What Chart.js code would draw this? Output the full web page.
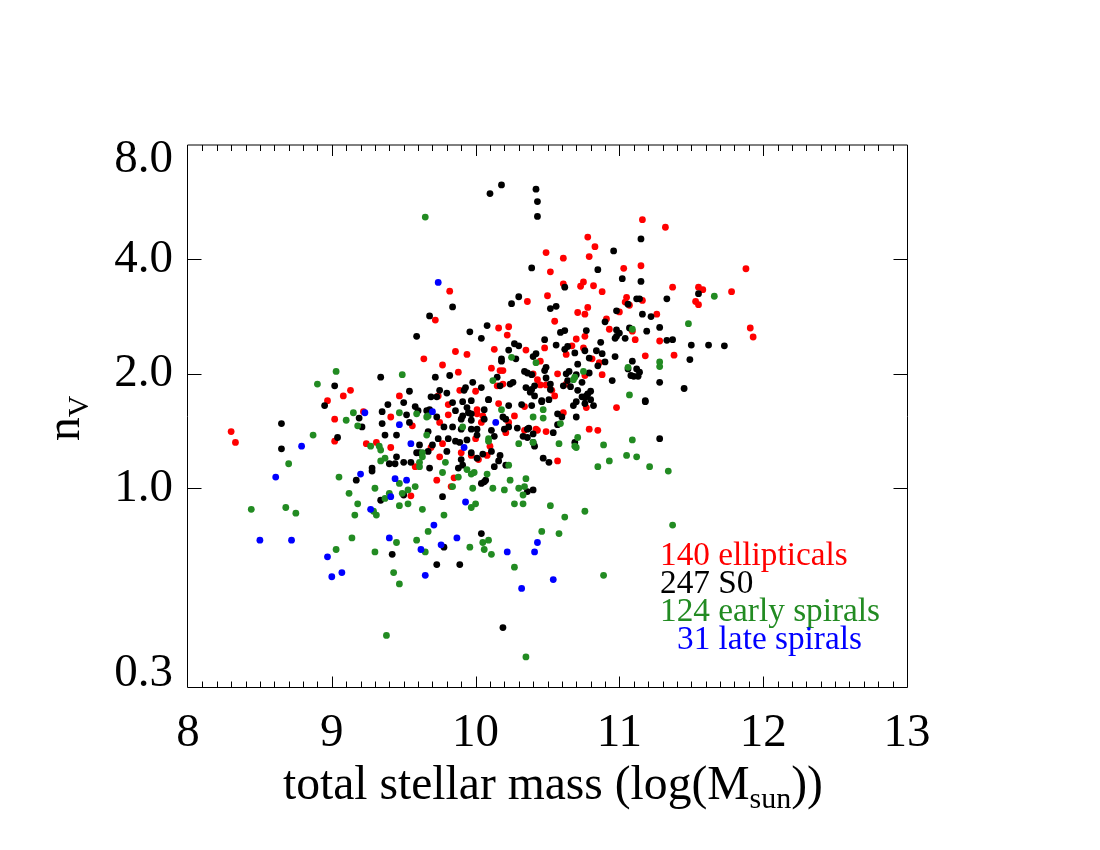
<!DOCTYPE html>
<html>
<head>
<meta charset="utf-8">
<style>html,body{margin:0;padding:0;background:#fff}#wrap{width:1100px;height:850px;position:relative}</style>
<script src="https://cdn.jsdelivr.net/npm/chart.js@4"></script>
</head>
<body>
<div id="wrap"><canvas id="c" width="1100" height="850"></canvas></div>
<script>
const ellipticals = [[8.30,1.41],[8.33,1.32],[9.13,1.81],[9.08,1.75],[8.97,1.70],[9.02,1.52],[9.02,1.33],[9.22,1.59],[9.24,1.31],[9.31,1.32],[9.41,1.28],[9.41,1.54],[9.47,1.75],[9.56,1.46],[9.55,0.955],[9.58,1.14],[9.64,2.19],[9.77,2.11],[9.86,2.29],[9.94,2.25],[9.88,2.02],[9.82,3.30],[9.72,2.77],[9.74,1.75],[9.89,1.81],[10.00,1.80],[9.81,1.66],[9.81,1.56],[9.75,1.49],[10.01,1.61],[10.01,1.57],[10.04,1.49],[10.05,1.55],[10.16,1.67],[10.00,1.35],[10.10,1.29],[9.77,1.31],[9.69,1.28],[9.90,1.24],[9.75,1.21],[9.97,1.22],[10.02,1.19],[10.08,1.22],[9.85,1.065],[9.73,1.05],[9.83,1.01],[11.16,5.09],[11.32,4.86],[10.78,4.58],[10.83,4.32],[10.49,4.17],[10.61,4.03],[10.79,4.07],[10.52,3.71],[11.03,3.79],[11.15,3.85],[11.88,3.78],[10.61,3.45],[10.75,3.49],[10.73,3.40],[10.82,3.41],[10.88,3.29],[11.37,3.38],[11.55,3.38],[11.58,3.33],[11.78,3.29],[11.53,3.10],[11.55,3.04],[10.36,3.10],[10.50,3.21],[10.78,2.99],[10.71,2.90],[10.76,2.87],[11.05,3.18],[11.04,3.09],[11.07,3.03],[11.16,3.12],[11.00,2.91],[11.26,2.87],[10.91,2.79],[10.55,2.75],[10.16,2.64],[10.23,2.66],[10.22,2.53],[11.91,2.64],[11.93,2.50],[11.09,2.59],[10.93,2.62],[11.11,2.46],[10.76,2.51],[10.70,2.47],[11.28,2.44],[10.13,2.32],[10.35,2.31],[10.48,2.34],[10.67,2.37],[10.75,2.34],[10.63,2.25],[10.45,2.16],[10.81,2.19],[11.18,2.23],[11.38,2.24],[10.86,2.14],[10.11,2.07],[10.17,2.04],[10.19,2.04],[10.40,2.00],[10.57,2.00],[10.88,1.99],[10.76,1.98],[10.19,1.88],[10.15,1.86],[10.43,1.93],[10.63,1.88],[10.45,1.87],[10.49,1.87],[10.53,1.81],[10.55,1.75],[10.34,1.64],[10.61,1.58],[10.77,1.63],[10.98,1.63],[10.27,1.55],[10.23,1.49],[10.21,1.40],[10.34,1.42],[10.42,1.43],[10.43,1.42],[10.49,1.41],[10.79,1.43],[10.85,1.42],[10.57,1.18]];
const s0 = [[9.68,2.84],[9.84,3.00],[9.59,2.51],[9.96,2.58],[10.04,2.48],[10.08,2.68],[9.82,1.98],[9.72,1.96],[9.34,1.96],[9.02,1.86],[9.54,1.80],[9.75,1.81],[9.69,1.74],[9.73,1.74],[9.80,1.78],[9.92,1.81],[9.93,1.84],[9.98,1.90],[10.04,1.84],[10.18,6.28],[10.10,5.96],[10.42,6.12],[10.43,5.68],[10.43,5.19],[11.15,4.53],[10.96,4.21],[10.39,3.80],[10.85,3.76],[11.02,3.56],[11.15,3.50],[10.62,3.38],[11.55,3.25],[10.30,3.19],[10.25,3.06],[10.56,3.01],[10.52,2.97],[11.06,3.05],[11.12,3.15],[11.14,3.15],[11.33,3.15],[10.98,2.93],[11.16,2.87],[11.22,2.83],[10.90,2.74],[11.28,2.65],[11.19,2.59],[11.07,2.64],[10.98,2.61],[11.00,2.56],[10.98,2.51],[10.97,2.48],[11.04,2.48],[10.77,2.60],[10.62,2.60],[10.59,2.57],[10.48,2.46],[10.87,2.42],[11.33,2.45],[11.37,2.46],[11.50,2.38],[11.62,2.38],[11.73,2.37],[10.27,2.40],[10.30,2.37],[10.23,2.31],[10.56,2.38],[10.64,2.36],[10.62,2.32],[10.76,2.30],[10.84,2.30],[10.88,2.26],[10.69,2.27],[10.42,2.26],[10.40,2.22],[10.28,2.19],[10.18,2.19],[10.18,2.16],[10.79,2.20],[10.97,2.22],[11.49,2.18],[11.09,2.16],[10.90,2.15],[10.85,2.10],[10.71,2.12],[11.06,2.06],[11.12,2.06],[11.14,2.02],[11.13,1.97],[11.10,1.97],[11.08,1.98],[10.49,2.08],[10.48,2.04],[10.34,2.03],[10.36,2.01],[10.39,1.99],[10.65,2.03],[10.63,2.00],[10.70,1.99],[10.79,2.01],[10.15,1.96],[10.26,1.90],[10.24,1.88],[10.17,1.86],[10.49,1.95],[10.64,1.92],[10.61,1.86],[10.66,1.85],[10.74,1.90],[10.95,1.92],[11.28,1.90],[11.45,1.83],[10.35,1.84],[10.41,1.86],[10.52,1.88],[10.52,1.82],[10.39,1.82],[10.38,1.79],[10.41,1.75],[10.71,1.81],[10.80,1.80],[10.78,1.77],[10.74,1.74],[10.76,1.73],[10.80,1.71],[10.09,1.71],[10.51,1.71],[10.46,1.70],[11.18,1.70],[8.65,1.48],[8.65,1.27],[8.95,1.65],[9.19,1.53],[9.21,1.45],[9.04,1.36],[9.45,1.21],[9.40,1.16],[9.44,1.16],[9.50,1.17],[9.55,1.17],[9.28,1.13],[9.28,1.11],[9.17,1.05],[9.50,0.96],[9.34,0.93],[9.77,0.95],[9.39,1.66],[9.50,1.68],[9.35,1.59],[9.52,1.56],[9.58,1.64],[9.60,1.60],[9.66,1.60],[9.68,1.61],[9.73,1.54],[9.35,1.48],[9.54,1.49],[9.78,1.45],[9.84,1.45],[9.90,1.43],[9.97,1.43],[9.97,1.51],[10.06,1.52],[9.86,1.60],[9.90,1.52],[9.91,1.55],[9.94,1.63],[9.95,1.58],[9.97,1.57],[9.84,1.68],[9.91,1.69],[9.97,1.70],[10.06,1.61],[10.09,1.71],[9.37,1.38],[9.45,1.38],[9.67,1.41],[9.74,1.35],[9.81,1.35],[9.86,1.33],[9.89,1.32],[9.94,1.34],[10.01,1.38],[10.01,1.43],[10.11,1.42],[10.13,1.37],[10.11,1.25],[9.61,1.30],[9.70,1.30],[9.67,1.25],[9.80,1.25],[9.59,1.24],[9.61,1.24],[9.97,1.24],[10.01,1.20],[10.05,1.23],[9.90,1.19],[10.17,1.22],[10.16,1.18],[9.68,1.13],[10.13,1.14],[9.91,1.15],[9.88,1.13],[10.07,1.05],[10.06,1.04],[10.04,1.03],[10.23,1.65],[10.32,1.66],[10.39,1.65],[10.46,1.69],[10.19,1.54],[10.21,1.52],[10.23,1.45],[10.20,1.43],[10.29,1.44],[10.37,1.44],[10.36,1.43],[10.54,1.40],[10.40,1.39],[10.33,1.37],[10.36,1.36],[10.57,1.57],[10.60,1.54],[10.57,1.47],[10.70,1.54],[10.68,1.65],[10.70,1.69],[10.77,1.75],[10.76,1.67],[10.82,1.65],[11.18,1.69],[10.69,1.32],[11.28,1.35],[10.41,1.29],[10.40,1.32],[10.47,1.20],[10.51,1.17],[10.21,1.15],[10.36,0.98],[10.40,0.99],[9.78,0.70],[10.04,0.76],[9.42,0.67],[9.73,0.63],[9.89,0.63],[10.19,0.43]];
const earlySpirals = [[9.65,5.17],[9.49,1.99],[9.03,2.03],[8.90,1.88],[10.25,2.21],[10.42,2.14],[11.66,3.20],[11.48,2.71],[11.09,2.62],[11.28,2.15],[11.28,2.09],[11.06,2.08],[10.75,2.03],[10.69,1.96],[10.68,1.93],[10.12,1.92],[11.07,1.76],[8.87,1.38],[8.70,1.16],[9.10,1.51],[9.15,1.58],[9.18,1.46],[9.27,1.29],[9.33,1.29],[9.34,1.26],[9.37,1.20],[9.34,1.18],[9.05,1.07],[9.12,0.97],[9.30,1.00],[9.47,1.03],[9.58,1.01],[9.53,0.99],[9.49,0.97],[9.40,0.97],[9.37,0.94],[9.18,0.91],[9.47,0.90],[9.53,0.91],[8.44,0.88],[8.68,0.89],[8.75,0.86],[9.47,1.58],[9.59,1.57],[9.66,1.54],[9.67,1.55],[9.91,1.45],[9.66,1.38],[10.09,1.35],[10.09,1.33],[9.63,1.24],[9.63,1.21],[9.79,1.17],[9.61,1.17],[9.61,1.14],[9.94,1.12],[9.77,1.10],[9.97,1.09],[9.99,1.10],[10.08,1.09],[9.88,1.07],[9.84,1.01],[9.98,1.00],[10.12,1.00],[10.00,0.91],[9.97,0.89],[9.63,0.88],[9.29,0.87],[9.16,0.85],[9.31,0.85],[9.78,0.85],[9.67,0.77],[9.14,0.74],[9.45,0.72],[9.59,0.73],[10.05,0.72],[10.09,0.73],[9.96,0.70],[10.06,0.69],[10.11,0.67],[9.03,0.69],[9.30,0.68],[9.65,0.68],[9.43,0.60],[9.47,0.56],[9.38,0.41],[10.27,0.91],[10.33,0.91],[10.52,0.90],[10.62,0.84],[10.76,0.87],[11.37,0.80],[10.46,0.77],[10.58,0.76],[10.27,0.62],[10.89,0.59],[10.35,0.36],[10.18,1.61],[10.47,1.61],[10.40,1.54],[10.47,1.53],[10.59,1.48],[10.71,1.36],[10.69,1.29],[10.70,1.28],[10.89,1.30],[11.09,1.34],[10.58,1.31],[10.40,1.32],[10.30,1.31],[11.05,1.22],[11.12,1.21],[10.93,1.18],[10.85,1.14],[11.21,1.14],[11.34,1.11],[10.23,1.15],[10.35,1.06],[10.24,1.05],[10.34,1.01],[10.30,1.00],[10.20,0.99],[10.33,0.96]];
const lateSpirals = [[9.74,3.48],[8.79,1.29],[8.61,1.07],[9.23,1.58],[9.20,1.09],[9.44,1.06],[9.52,1.05],[9.41,0.95],[9.47,1.47],[9.55,1.31],[9.70,1.59],[9.92,1.28],[10.14,1.49],[9.93,0.92],[9.27,0.88],[9.71,0.80],[8.50,0.73],[8.72,0.73],[9.40,0.74],[9.76,0.71],[9.87,0.74],[8.97,0.66],[9.62,0.69],[9.00,0.585],[9.07,0.60],[9.65,0.59],[10.22,0.68],[10.43,0.72],[10.41,0.68],[10.54,0.575],[10.32,0.545]];

const xTicks = [8,9,10,11,12,13];
const xMinorTicks = [8.1,8.2,8.3,8.4,8.5,8.6,8.7,8.8,8.9,9.1,9.2,9.3,9.4,9.5,9.6,9.7,9.8,9.9,10.1,10.2,10.3,10.4,10.5,10.6,10.7,10.8,10.9,11.1,11.2,11.3,11.4,11.5,11.6,11.7,11.8,11.9,12.1,12.2,12.3,12.4,12.5,12.6,12.7,12.8,12.9];
const yTicks = [0.3,1,2,4,8];
const legendLines = [
  {text:"140 ellipticals", color:"#ff0000", x:660, y:565},
  {text:"247 S0", color:"#000000", x:660, y:593},
  {text:"124 early spirals", color:"#228b22", x:660, y:621},
  {text:"31 late spirals", color:"#0000ff", x:677, y:649}
];
const SERIF = '"Liberation Serif","Times New Roman",serif';
const toPts = a => a.map(p => ({x:p[0], y:p[1]}));
const ds = (label, data, color, order) => ({label, data:toPts(data), backgroundColor:color, borderColor:color, borderWidth:0, pointRadius:3.4, pointHoverRadius:3.4, order});

const framePlugin = {
  id:'frame',
  afterLayout(chart){
    // first and last y labels sit just inside the frame
    const y = chart.scales.y;
    const items = y.getLabelItems(chart.chartArea);
    items.forEach(it => {
      const lab = Array.isArray(it.label) ? it.label[0] : it.label;
      if (lab === '8.0') it.options.translation[1] += 15;
      if (lab === '0.3') it.options.translation[1] -= 13;
    });
  },
  afterDatasetsDraw(chart){
    const {ctx, scales:{x,y}} = chart;
    const L=187.5, R=907.5, T=145, B=687.5;
    ctx.save();
    ctx.strokeStyle='#000'; ctx.lineWidth=1;
    ctx.beginPath();
    ctx.moveTo(L,T); ctx.lineTo(R,T); ctx.moveTo(R,T); ctx.lineTo(R,B); ctx.lineTo(L,B); ctx.lineTo(L,T);
    const xTick=(v,len)=>{const p=Math.round(x.getPixelForValue(v))+0.5; ctx.moveTo(p,B); ctx.lineTo(p,B-len); ctx.moveTo(p,T); ctx.lineTo(p,T+len);};
    xTicks.slice(1,-1).forEach(v=>xTick(v,11));
    xMinorTicks.forEach(v=>xTick(v,6));
    yTicks.slice(1,-1).forEach(v=>{const p=Math.round(y.getPixelForValue(v))+0.5; ctx.moveTo(L,p); ctx.lineTo(L+14,p); ctx.moveTo(R,p); ctx.lineTo(R-14,p);});
    ctx.stroke();

    ctx.textBaseline='alphabetic'; ctx.textAlign='left';
    // legend
    ctx.font='33.3px '+SERIF;
    legendLines.forEach(l=>{ctx.fillStyle=l.color; ctx.fillText(l.text,l.x,l.y);});
    // x axis title with subscript
    ctx.fillStyle='#000';
    let cx=283; const by=799;
    ctx.font='47.6px '+SERIF;
    let s='total stellar mass (log(M';
    ctx.fillText(s,cx,by); cx+=ctx.measureText(s).width;
    ctx.font='30px '+SERIF;
    ctx.fillText('sun',cx,by+9); cx+=ctx.measureText('sun').width;
    ctx.font='47.6px '+SERIF;
    ctx.fillText('))',cx,by);
    // y axis title with subscript
    ctx.save();
    ctx.translate(79,441);
    ctx.rotate(-Math.PI/2);
    ctx.font='47.6px '+SERIF;
    ctx.fillText('n',0,0);
    const w=ctx.measureText('n').width;
    ctx.font='30px '+SERIF;
    ctx.fillText('V',w,9);
    ctx.restore();
    ctx.restore();
  }
};

new Chart(document.getElementById('c'),{
  type:'scatter',
  data:{datasets:[
    ds('ellipticals',ellipticals,'#ff0000',4),
    ds('S0',s0,'#000000',3),
    ds('early spirals',earlySpirals,'#228b22',2),
    ds('late spirals',lateSpirals,'#0000ff',1)
  ]},
  options:{
    responsive:false, animation:false, events:[],
    layout:{padding:{left:0,top:145,right:193,bottom:63}},
    plugins:{legend:{display:false},tooltip:{enabled:false},title:{display:false}},
    scales:{
      x:{type:'linear',min:8,max:13,
        afterBuildTicks:s=>{s.ticks=xTicks.map(v=>({value:v}));},
        afterFit:s=>{s.height=100;},
        grid:{display:false},border:{display:false},
        ticks:{autoSkip:false,maxRotation:0,color:'#000',font:{family:SERIF,size:47},padding:10,callback:v=>String(v)}},
      y:{type:'logarithmic',min:0.3,max:8,
        afterBuildTicks:s=>{s.ticks=yTicks.map(v=>({value:v,major:true}));},
        afterFit:s=>{s.width=188;},
        grid:{display:false},border:{display:false},
        ticks:{autoSkip:false,color:'#000',font:{family:SERIF,size:47},padding:7,callback:v=>Number(v).toFixed(1)}}
    }
  },
  plugins:[framePlugin]
});
</script>
</body>
</html>
